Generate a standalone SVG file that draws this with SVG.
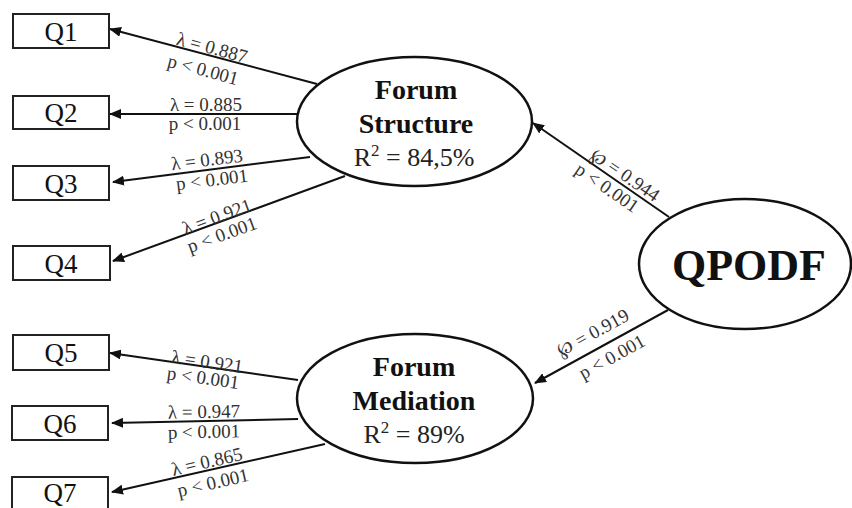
<svg xmlns="http://www.w3.org/2000/svg" width="852" height="508" viewBox="0 0 852 508">
<defs>
<style>
.box{fill:#fff;stroke:#222;stroke-width:2}
.ell{fill:#fff;stroke:#111;stroke-width:2.5}
.q{font-family:"Liberation Serif","Times New Roman",serif;font-size:27px;fill:#111;text-anchor:middle}
.lat{font-family:"Liberation Serif","Times New Roman",serif;font-size:28px;font-weight:bold;fill:#111;text-anchor:middle}
.r2{font-family:"Liberation Serif","Times New Roman",serif;font-size:26px;fill:#222;text-anchor:middle}
.lbl{font-family:"Liberation Serif","DejaVu Serif",serif;font-size:19px;fill:#333;text-anchor:middle}
.ln{stroke:#111;stroke-width:2;fill:none;marker-end:url(#ah)}
</style>
<marker id="ah" viewBox="0 0 12 10" refX="11" refY="5" markerWidth="12" markerHeight="10" markerUnits="userSpaceOnUse" orient="auto">
<path d="M0,0 L12,5 L0,10 Z" fill="#111"/>
</marker>
</defs>
<g id="connectors">
<line class="ln" x1="317" y1="84" x2="110" y2="29"/>
<line class="ln" x1="297" y1="114" x2="110" y2="114"/>
<line class="ln" x1="310" y1="157" x2="113" y2="182"/>
<line class="ln" x1="345" y1="176" x2="113" y2="261"/>
<line class="ln" x1="298" y1="380" x2="110" y2="353"/>
<line class="ln" x1="298" y1="419" x2="112" y2="423"/>
<line class="ln" x1="325" y1="444" x2="112" y2="492"/>
<line class="ln" x1="669" y1="217" x2="533" y2="123"/>
<line class="ln" x1="668" y1="310" x2="535" y2="383"/>
<g id="labels">
<text class="lbl" x="212" y="54" transform="rotate(15 212 48)">λ = 0.887</text>
<text class="lbl" x="203" y="76" transform="rotate(15 203 70)">p &lt; 0.001</text>
<text class="lbl" x="206" y="111">λ = 0.885</text>
<text class="lbl" x="205" y="130">p &lt; 0.001</text>
<text class="lbl" x="207" y="166" transform="rotate(-7 207 160)">λ = 0.893</text>
<text class="lbl" x="212" y="186" transform="rotate(-7 212 180)">p &lt; 0.001</text>
<text class="lbl" x="217" y="223" transform="rotate(-20 217 217)">λ = 0.921</text>
<text class="lbl" x="222" y="241" transform="rotate(-20 222 235)">p &lt; 0.001</text>
<text class="lbl" x="207" y="368" transform="rotate(8 207 362)">λ = 0.921</text>
<text class="lbl" x="203" y="384" transform="rotate(8 203 378)">p &lt; 0.001</text>
<text class="lbl" x="204" y="418" transform="rotate(-1 204 412)">λ = 0.947</text>
<text class="lbl" x="204" y="438" transform="rotate(-1 204 432)">p &lt; 0.001</text>
<text class="lbl" x="207" y="468" transform="rotate(-13 207 462)">λ = 0.865</text>
<text class="lbl" x="213" y="489" transform="rotate(-13 213 483)">p &lt; 0.001</text>
<text class="lbl" x="625" y="181" transform="rotate(34.6 625 175)">℘ = 0.944</text>
<text class="lbl" x="607" y="194" transform="rotate(34.6 607 188)">p &lt; 0.001</text>
<text class="lbl" x="593" y="339" transform="rotate(-28.8 593 333)">℘ = 0.919</text>
<text class="lbl" x="612" y="363" transform="rotate(-28.8 612 357)">p &lt; 0.001</text>
</g>
</g>
<g id="Q1"><rect class="box" x="13" y="14" width="96" height="34"/><text class="q" x="61" y="41">Q1</text></g>
<g id="Q2"><rect class="box" x="13" y="96" width="96" height="33"/><text class="q" x="61" y="122">Q2</text></g>
<g id="Q3"><rect class="box" x="13" y="166" width="96" height="34"/><text class="q" x="61" y="193">Q3</text></g>
<g id="Q4"><rect class="box" x="13" y="246" width="97" height="34"/><text class="q" x="61" y="273">Q4</text></g>
<g id="Q5"><rect class="box" x="13" y="335" width="96" height="35"/><text class="q" x="61" y="362">Q5</text></g>
<g id="Q6"><rect class="box" x="12" y="406" width="96" height="34"/><text class="q" x="60" y="433">Q6</text></g>
<g id="Q7"><rect class="box" x="12" y="477" width="96" height="34"/><text class="q" x="60" y="502">Q7</text></g>
<g id="ForumStructure">
<ellipse class="ell" cx="414.5" cy="121.5" rx="117.5" ry="64.5"/>
<text class="lat" x="416" y="99">Forum</text>
<text class="lat" x="416" y="133">Structure</text>
<text class="r2" x="414" y="166">R<tspan font-size="17" dy="-10">2</tspan><tspan dy="10"> = 84,5%</tspan></text>
</g>
<g id="ForumMediation">
<ellipse class="ell" cx="415" cy="398.5" rx="118" ry="64.5"/>
<text class="lat" x="414" y="376">Forum</text>
<text class="lat" x="414" y="410">Mediation</text>
<text class="r2" x="414" y="443">R<tspan font-size="17" dy="-10">2</tspan><tspan dy="10"> = 89%</tspan></text>
</g>
<g id="QPODF">
<ellipse class="ell" cx="745" cy="264" rx="106" ry="65"/>
<text class="lat" x="749" y="280" style="font-size:44px">QPODF</text>
</g>
</svg>
